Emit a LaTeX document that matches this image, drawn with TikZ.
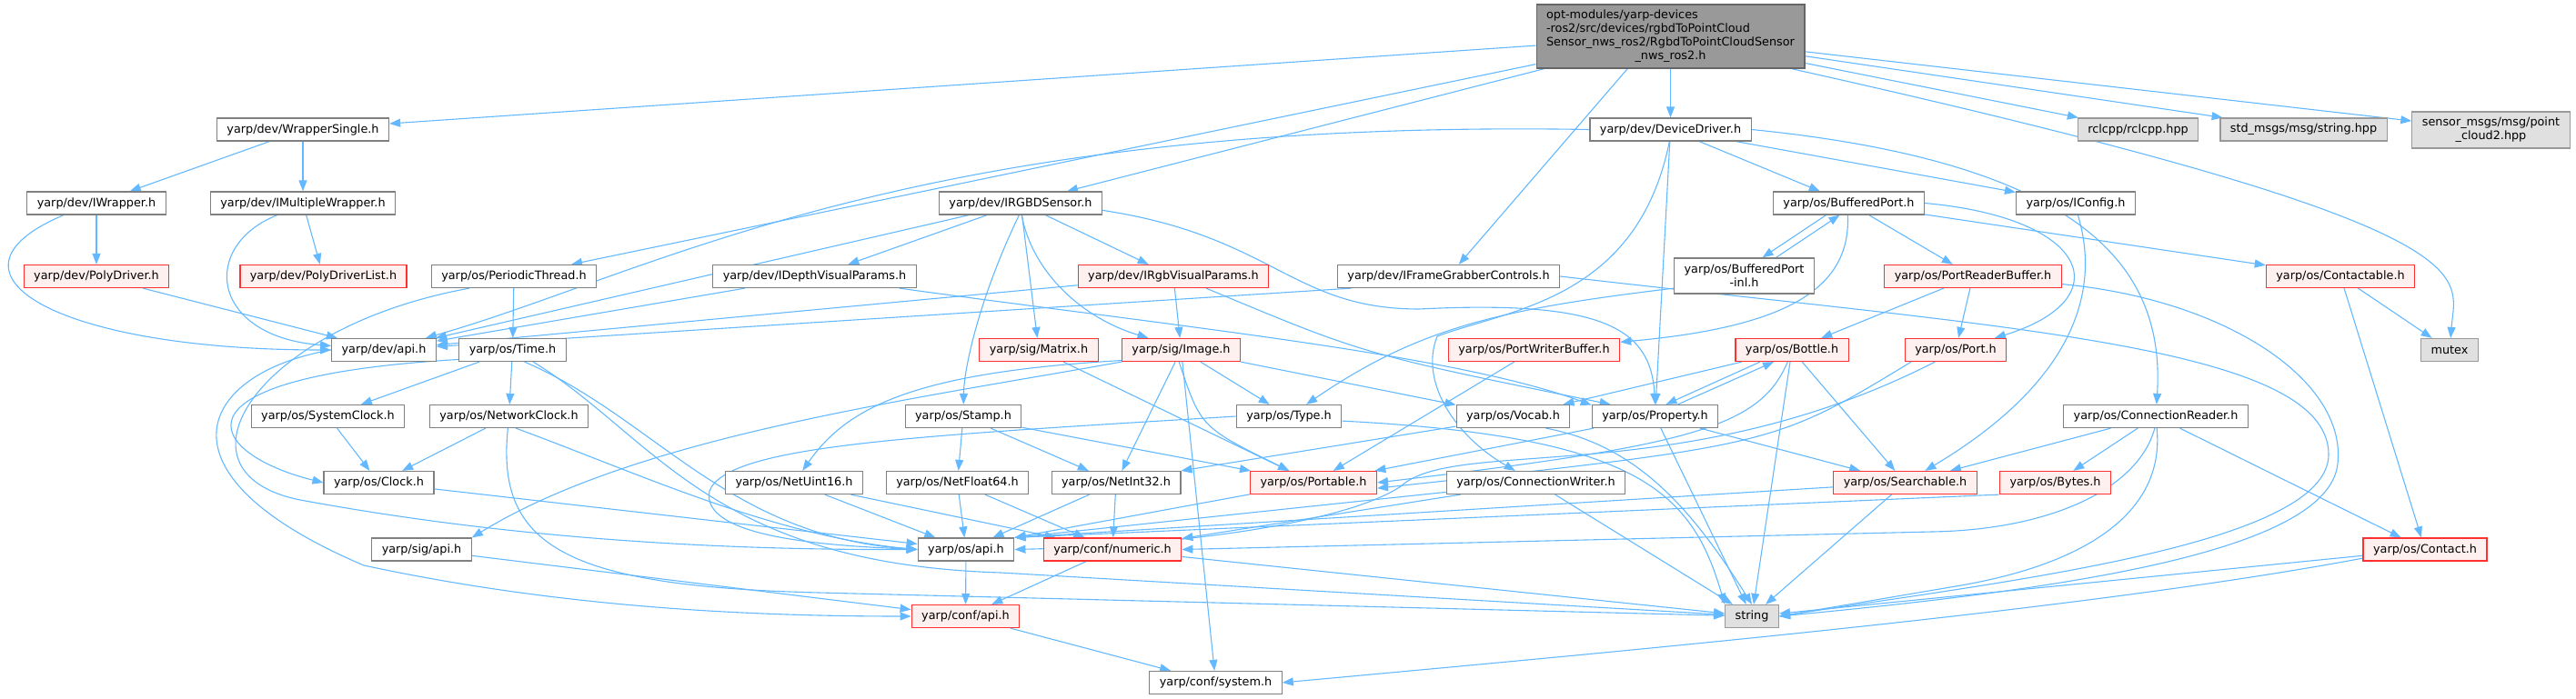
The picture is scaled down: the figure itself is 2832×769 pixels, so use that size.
\documentclass[tikz,border=0pt]{standalone}
\usepackage{fontspec}
\setmainfont{DejaVu Sans}
\usetikzlibrary{arrows.meta,calc,backgrounds}
\definecolor{doxblue}{HTML}{63B8FF}
\definecolor{doxgray}{HTML}{808080}
\definecolor{doxdark}{HTML}{666666}
\definecolor{doxmid}{HTML}{999999}
\definecolor{doxlight}{HTML}{E0E0E0}
\definecolor{doxred}{HTML}{FF3030}
\definecolor{doxpink}{HTML}{FFF0F0}
\newcommand{\doxfont}{\fontsize{6.4}{7.5}\selectfont}

\begin{document}
\begin{tikzpicture}[x=0.5pt, y=-0.5pt,
    hdr/.style={draw=doxgray, fill=white, line width=0.6pt, inner xsep=5.5pt, inner ysep=0pt, minimum height=12.5pt, font=\doxfont},
    trunc/.style={hdr, draw=doxred, fill=doxpink},
    ext/.style={hdr, draw=doxmid, fill=doxlight},
    two/.style={align=center, minimum height=19.5pt},
    dep/.style={draw=doxblue, line width=0.55pt, -{Triangle[length=6pt,width=4.5pt]}}]
    \useasboundingbox (0,0) rectangle (2832,769);

    % top rows
    \node[hdr, draw=doxdark, fill=doxmid, minimum height=35pt] (root) at (1836.5,40)
        {\begin{tabular}{@{}l@{}}opt-modules/yarp-devices\\-ros2/src/devices/rgbdToPointCloud\\Sensor\_nws\_ros2/RgbdToPointCloudSensor\\\multicolumn{1}{@{}c@{}}{\_nws\_ros2.h}\end{tabular}};
    \node[hdr] (wsingle) at (333,142.5) {yarp/dev/WrapperSingle.h};
    \node[hdr] (ddriver) at (1836.5,142.5) {yarp/dev/DeviceDriver.h};
    \node[ext] (rclcpp) at (2350.5,142.5) {rclcpp/rclcpp.hpp};
    \node[ext] (stdmsgs) at (2532.5,142.5) {std\_msgs/msg/string.hpp};
    \node[ext, two, minimum height=20pt] (sensormsgs) at (2738.5,143) {sensor\_msgs/msg/point\\\_cloud2.hpp};
    \node[hdr] (iwrapper) at (106,223.5) {yarp/dev/IWrapper.h};
    \node[hdr] (imwrapper) at (333,223.5) {yarp/dev/IMultipleWrapper.h};
    \node[hdr] (irgbd) at (1122,223.5) {yarp/dev/IRGBDSensor.h};
    \node[hdr] (bport) at (2032.5,223.5) {yarp/os/BufferedPort.h};
    \node[hdr] (iconfig) at (2282,223.5) {yarp/os/IConfig.h};
    \node[trunc] (polydriver) at (106,304) {yarp/dev/PolyDriver.h};
    \node[trunc] (polylist) at (355.5,304) {yarp/dev/PolyDriverList.h};
    \node[hdr] (periodic) at (565,304) {yarp/os/PeriodicThread.h};
    \node[hdr] (idepth) at (895.5,304) {yarp/dev/IDepthVisualParams.h};
    \node[trunc] (irgbvp) at (1290,304) {yarp/dev/IRgbVisualParams.h};
    \node[hdr] (ifgc) at (1592.5,304) {yarp/dev/IFrameGrabberControls.h};
    \node[hdr, two] (bpinl) at (1917.5,303.5) {yarp/os/BufferedPort\\-inl.h};
    \node[trunc] (prb) at (2169,304) {yarp/os/PortReaderBuffer.h};
    \node[trunc] (contactable) at (2573,304) {yarp/os/Contactable.h};

    % middle rows
    \node[hdr] (devapi) at (422,385) {yarp/dev/api.h};
    \node[hdr] (time) at (563.5,385) {yarp/os/Time.h};
    \node[trunc] (matrix) at (1142,385) {yarp/sig/Matrix.h};
    \node[trunc] (image) at (1298.5,385) {yarp/sig/Image.h};
    \node[trunc] (pwb) at (1686.5,385) {yarp/os/PortWriterBuffer.h};
    \node[trunc] (bottle) at (1970,385) {yarp/os/Bottle.h};
    \node[trunc] (port) at (2150,385) {yarp/os/Port.h};
    \node[ext] (mutex) at (2693,385) {mutex};
    \node[hdr] (sysclock) at (360.5,458) {yarp/os/SystemClock.h};
    \node[hdr] (netclock) at (559.5,458) {yarp/os/NetworkClock.h};
    \node[hdr] (stamp) at (1059,458) {yarp/os/Stamp.h};
    \node[hdr] (type) at (1417,458) {yarp/os/Type.h};
    \node[hdr] (vocab) at (1663.5,458) {yarp/os/Vocab.h};
    \node[hdr] (property) at (1819.5,458) {yarp/os/Property.h};
    \node[hdr] (creader) at (2370,458) {yarp/os/ConnectionReader.h};
    \node[hdr] (clock) at (416.5,531) {yarp/os/Clock.h};
    \node[hdr] (netuint16) at (873,531) {yarp/os/NetUint16.h};
    \node[hdr] (netfloat64) at (1052.5,531) {yarp/os/NetFloat64.h};
    \node[hdr] (netint32) at (1227,531) {yarp/os/NetInt32.h};
    \node[trunc] (portable) at (1444,531) {yarp/os/Portable.h};
    \node[hdr] (cwriter) at (1688.5,531) {yarp/os/ConnectionWriter.h};
    \node[trunc] (searchable) at (2094.5,531) {yarp/os/Searchable.h};
    \node[trunc] (bytes) at (2259.5,531) {yarp/os/Bytes.h};

    % bottom rows
    \node[hdr] (sigapi) at (463.5,604.5) {yarp/sig/api.h};
    \node[hdr] (osapi) at (1062,604.5) {yarp/os/api.h};
    \node[trunc] (numeric) at (1223,604.5) {yarp/conf/numeric.h};
    \node[trunc] (contact) at (2666,604.5) {yarp/os/Contact.h};
    \node[trunc] (confapi) at (1061.5,678) {yarp/conf/api.h};
    \node[ext] (string) at (1926,678) {string};
    \node[hdr] (confsystem) at (1336.5,751) {yarp/conf/system.h};

    \begin{scope}[on background layer]
    \foreach \s/\t in {root/wsingle, root/periodic, root/irgbd, root/ddriver, root/rclcpp, root/stdmsgs, root/sensormsgs,
        wsingle/iwrapper, wsingle/imwrapper, iwrapper/polydriver, imwrapper/polylist, polydriver/devapi,
        periodic/time, time/sysclock, time/netclock, sysclock/clock, netclock/clock, clock/osapi,
        sigapi/confapi, osapi/confapi, numeric/confapi, confapi/confsystem, numeric/string,
        irgbd/devapi, irgbd/idepth, irgbd/irgbvp, irgbd/matrix, idepth/devapi, irgbvp/devapi, irgbvp/image,
        matrix/portable, image/netint32, image/confsystem, image/type, image/vocab,
        stamp/netfloat64, stamp/netint32, stamp/portable,
        netuint16/osapi, netuint16/numeric, netfloat64/osapi, netfloat64/numeric, netint32/osapi, netint32/numeric,
        ddriver/bport, ddriver/iconfig, ddriver/property, property/portable, property/searchable, property/string,
        bottle/vocab, bottle/string, bottle/searchable, searchable/string, cwriter/numeric, cwriter/string,
        bport/prb, bport/contactable, prb/port, prb/bottle, pwb/portable,
        creader/searchable, creader/bytes, creader/contact, contact/string, contactable/mutex, contactable/contact}
        \draw[dep] (\s) -- (\t);
    \foreach \s in {portable, cwriter, searchable}
        \draw[dep] (\s) -- (osapi.north east);
    \draw[dep] (bytes.south west) -- (osapi.north east);
    \draw[dep] (root.-143) -- (ifgc);
    \draw[dep] (vocab.-170) -- (netint32.north east);

    % cycles
    \draw[dep] ($(property.north)+(25,0)$) -- ($(bottle.south)+(-20,0)$);
    \draw[dep] ($(bottle.south)+(-35,0)$) -- ($(property.north)+(12,0)$);
    \draw[dep] ($(bport.south)+(-25,0)$) -- ($(bpinl.north)+(20,0)$);
    \draw[dep] ($(bpinl.north)+(35,0)$) -- ($(bport.south)+(-10,0)$);

    % routed around other boxes
    \draw[dep] (root.-15) .. controls (2750,250) and (2700,300) .. (mutex);
    \draw[dep] (ddriver.west) .. controls (1000,130) and (720,300) .. (devapi);
    \draw[dep] (ddriver.east) .. controls (2300,180) and (2380,300) .. (creader);
    \draw[dep] (ddriver.-95) .. controls (1800,330) and (1660,340) .. (1580,370)
        .. controls (1560,420) and (1600,480) .. (cwriter);
    \draw[dep] (iwrapper.-160) .. controls (-80,300) and (60,385) .. (devapi);
    \draw[dep] (imwrapper.-155) .. controls (220,270) and (230,370) .. (devapi);
    \draw[dep] (periodic.-165) .. controls (280,360) and (180,520) .. (330,550)
        .. controls (600,600) and (850,605) .. (osapi.west);
    \draw[dep] (devapi.west) .. controls (220,410) and (160,520) .. (400,622)
        .. controls (600,665) and (800,678) .. (confapi.west);
    \draw[dep] (time.-170) .. controls (170,415) and (230,500) .. (clock.west);
    \draw[dep] (time.-45) .. controls (720,460) and (800,590) .. (osapi.west);
    \draw[dep] (time.-30) .. controls (720,480) and (780,620) .. (1100,630) -- (string);
    \draw[dep] (netclock.-95) .. controls (545,600) and (620,645) .. (900,652) -- (string);
    \draw[dep] (netclock.-60) .. controls (700,520) and (850,590) .. (osapi.west);
    \draw[dep] (irgbd.-97) .. controls (1080,320) and (1060,400) .. (stamp);
    \draw[dep] (irgbd.-85) .. controls (1135,300) and (1190,350) .. (image.160);
    \draw[dep] (irgbd.-5) .. controls (1400,260) and (1420,340) .. (1560,340)
        .. controls (1760,330) and (1815,360) .. (property.north);
    \draw[dep] (idepth.-8) .. controls (1300,360) and (1600,390) .. (property.170);
    \draw[dep] (irgbvp.-20) .. controls (1500,390) .. (property.165);
    \draw[dep] (ifgc.-173) -- (devapi);
    \draw[dep] (ifgc.east) .. controls (2200,360) and (2560,380) .. (2560,500)
        .. controls (2560,600) and (2200,640) .. (string.east);
    \draw[dep] (prb.-5) .. controls (2450,330) and (2580,420) .. (2570,510)
        .. controls (2560,610) and (2250,650) .. (string.east);
    \draw[dep] (image.south west) .. controls (1000,440) and (700,480) .. (sigapi.north east);
    \draw[dep] (image.-170) .. controls (1000,410) and (930,450) .. (netuint16);
    \draw[dep] (image.-100) .. controls (1320,470) .. (portable);
    \draw[dep] (type.west) .. controls (1000,480) and (800,490) .. (780,540)
        .. controls (770,590) and (900,600) .. (osapi.west);
    \draw[dep] (type.-5) .. controls (1800,480) and (1860,540) .. (string.north west);
    \draw[dep] (vocab.-20) .. controls (1800,490) and (1860,560) .. (string.north);
    \draw[dep] (bottle.-110) .. controls (1935,470) and (1860,490) .. (portable.east);
    \draw[dep] (port.-165) .. controls (1950,490) .. (portable.-5);
    \draw[dep] (port.-150) .. controls (1850,540) and (1600,480) .. (1540,535)
        .. controls (1480,575) and (1300,600) .. (osapi.east);
    \draw[dep] (bpinl.-170) .. controls (1650,340) and (1560,360) .. (type);
    \draw[dep] (bport.-95) .. controls (2035,320) and (1960,360) .. (pwb);
    \draw[dep] (bport.east) .. controls (2300,240) and (2330,330) .. (port);
    \draw[dep] (iconfig.-80) .. controls (2310,320) and (2280,420) .. (searchable);
    \draw[dep] (creader.-95) .. controls (2350,540) and (2250,583) .. (2124,585) -- (numeric.east);
    \draw[dep] (creader.-85) .. controls (2380,560) and (2300,620) .. (2150,645) -- (string.east);
    \draw[dep] (contact.-172) .. controls (2300,670) and (1800,715) .. (confsystem.east);
    \end{scope}
\end{tikzpicture}
\end{document}
